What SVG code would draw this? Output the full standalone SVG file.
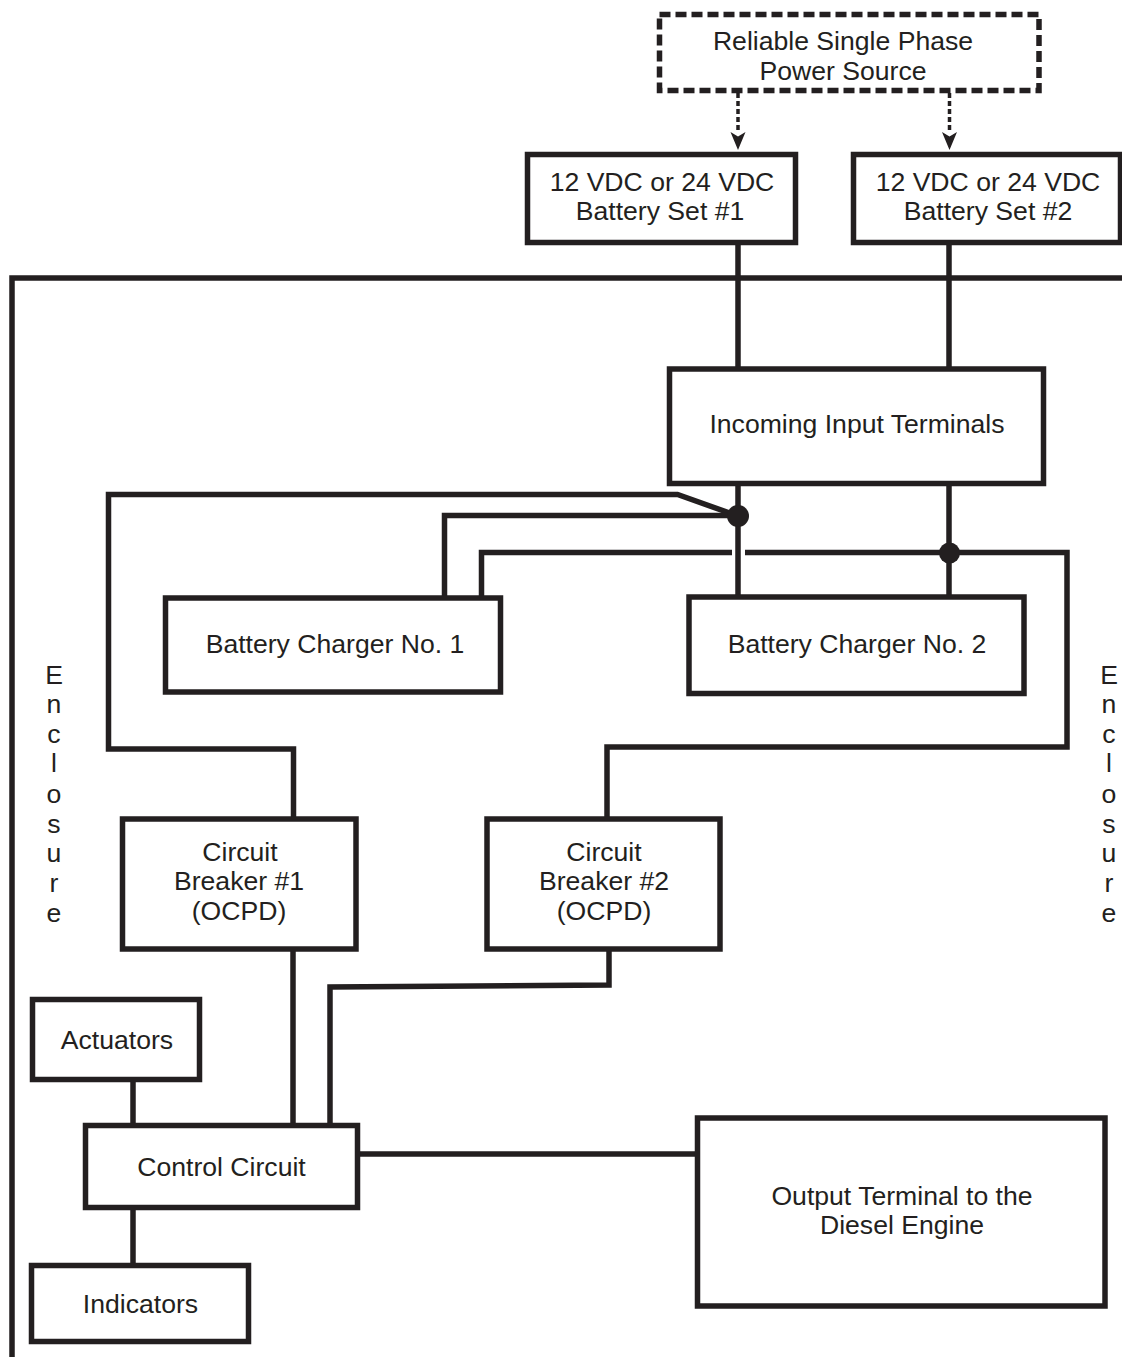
<svg xmlns="http://www.w3.org/2000/svg" width="1122" height="1357" viewBox="0 0 1122 1357">
<defs>
<style>
.b{fill:#fff;stroke:#231f20;stroke-width:5.500}
.w{fill:none;stroke:#231f20;stroke-width:5.500}
.t{font-family:"Liberation Sans",Arial,sans-serif;font-size:26.600px;fill:#231f20;text-anchor:middle}
.d{fill:#231f20}
</style>
</defs>
<rect width="1122" height="1357" fill="#fff"/>
<g id="connectors">
<path id="enclosure" class="w" d="M1122 278H12V1357"/>
<path class="w" d="M738 243V369M949 243V369"/>
<path class="w" d="M738 484V598M949 484V598"/>
<path class="w" d="M293.500 819V749H108.500V494.500H677.500L738 516"/>
<path class="w" d="M444.500 598V515.500H738"/>
<path class="w" d="M481.500 598V552.500H732M745 552.500H1067V747H607V819"/>
<path class="w" d="M293 949V1126M609 949V985L330 987V1126"/>
<path class="w" d="M133 1080V1126M133 1207V1266M358 1154H698"/>
<path d="M738 93V133M949.500 93V133" fill="none" stroke="#231f20" stroke-width="3.500" stroke-dasharray="5 3"/>
<path d="M730.500 132L738 136.500L745.500 132L738 150ZM942 132L949.500 136.500L957 132L949.500 150Z" class="d"/>
<circle class="d" cx="738" cy="516" r="11"/>
<circle class="d" cx="949.500" cy="553" r="10.500"/>
</g>
<g id="source"><rect x="659.500" y="14.500" width="379.500" height="76" fill="#fff" stroke="#231f20" stroke-width="5.500" stroke-dasharray="11 5"/><text class="t" x="843" y="50">Reliable Single Phase</text><text class="t" x="843" y="80">Power Source</text></g>
<g id="battery1"><rect class="b" x="527.500" y="154.500" width="268" height="88"/><text class="t" x="662" y="191">12 VDC or 24 VDC</text><text class="t" x="660" y="220">Battery Set #1</text></g>
<g id="battery2"><rect class="b" x="853.500" y="154.500" width="267" height="88"/><text class="t" x="988" y="191">12 VDC or 24 VDC</text><text class="t" x="988" y="220">Battery Set #2</text></g>
<g id="input"><rect class="b" x="669.500" y="369" width="374" height="114.500"/><text class="t" x="857" y="433">Incoming Input Terminals</text></g>
<g id="charger1"><rect class="b" x="165.500" y="598" width="335" height="94"/><text class="t" x="335" y="653">Battery Charger No. 1</text></g>
<g id="charger2"><rect class="b" x="689" y="597" width="335" height="96.500"/><text class="t" x="857" y="653">Battery Charger No. 2</text></g>
<g id="cb1"><rect class="b" x="122.500" y="819" width="233.500" height="130"/><text class="t" x="240" y="861">Circuit</text><text class="t" x="239" y="890">Breaker #1</text><text class="t" x="239" y="920">(OCPD)</text></g>
<g id="cb2"><rect class="b" x="487" y="819" width="233" height="130"/><text class="t" x="604" y="861">Circuit</text><text class="t" x="604" y="890">Breaker #2</text><text class="t" x="604" y="920">(OCPD)</text></g>
<g id="actuators"><rect class="b" x="32.500" y="999.500" width="167" height="80"/><text class="t" x="117" y="1049">Actuators</text></g>
<g id="control"><rect class="b" x="85.500" y="1125.500" width="272" height="82"/><text class="t" x="221.500" y="1176">Control Circuit</text></g>
<g id="indicators"><rect class="b" x="31.500" y="1265.500" width="217" height="76"/><text class="t" x="140.500" y="1313">Indicators</text></g>
<g id="output"><rect class="b" x="697.500" y="1118" width="407.500" height="188"/><text class="t" x="902" y="1205">Output Terminal to the</text><text class="t" x="902" y="1234">Diesel Engine</text></g>
<g id="label-left"><text class="t" x="54" y="684">E</text><text class="t" x="54" y="713">n</text><text class="t" x="54" y="743">c</text><text class="t" x="54" y="772">l</text><text class="t" x="54" y="803">o</text><text class="t" x="54" y="833">s</text><text class="t" x="54" y="862">u</text><text class="t" x="54" y="892">r</text><text class="t" x="54" y="922">e</text></g>
<g id="label-right"><text class="t" x="1109" y="684">E</text><text class="t" x="1109" y="713">n</text><text class="t" x="1109" y="743">c</text><text class="t" x="1109" y="772">l</text><text class="t" x="1109" y="803">o</text><text class="t" x="1109" y="833">s</text><text class="t" x="1109" y="862">u</text><text class="t" x="1109" y="892">r</text><text class="t" x="1109" y="922">e</text></g>
</svg>
